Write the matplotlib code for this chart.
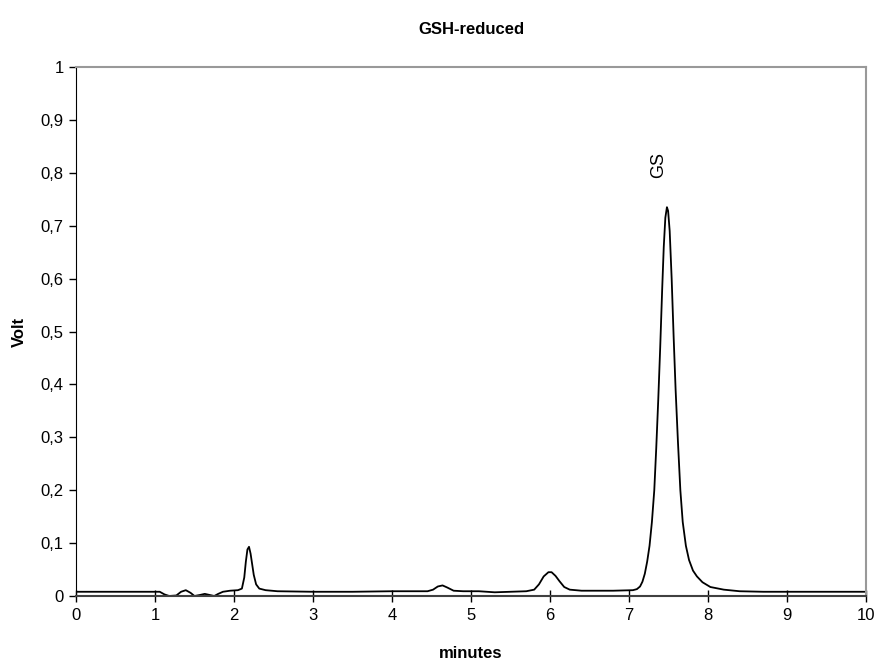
import matplotlib
matplotlib.use('Agg')
from matplotlib import pyplot as plt
from matplotlib.ticker import FuncFormatter

# chromatogram (minutes, volt)
minutes = [0, 0.5, 1.0, 1.06, 1.12, 1.18, 1.27, 1.33, 1.39, 1.45, 1.50, 1.57, 1.63, 1.69,
           1.75, 1.80, 1.86, 1.95, 2.05, 2.10, 2.13, 2.15, 2.17, 2.19, 2.21, 2.23, 2.25,
           2.28, 2.32, 2.40, 2.55, 3.0, 3.5, 4.0, 4.45, 4.52, 4.58, 4.64, 4.70, 4.78,
           4.9, 5.1, 5.3, 5.5, 5.7, 5.80, 5.86, 5.92, 5.98, 6.02, 6.07, 6.12, 6.18, 6.25,
           6.4, 6.8, 7.05, 7.10, 7.14, 7.17, 7.20, 7.23, 7.26, 7.29, 7.32, 7.345, 7.37,
           7.395, 7.42, 7.44, 7.46, 7.48, 7.495, 7.515, 7.54, 7.565, 7.59, 7.62, 7.65,
           7.68, 7.72, 7.76, 7.81, 7.86, 7.93, 8.03, 8.20, 8.40, 8.7, 9.0, 9.5, 10.0]
volt = [0.008, 0.008, 0.008, 0.008, 0.003, 0.0, 0.001, 0.008, 0.011, 0.006, 0.0, 0.002,
        0.004, 0.002, 0.0, 0.004, 0.008, 0.010, 0.011, 0.014, 0.035, 0.065, 0.088, 0.093,
        0.080, 0.060, 0.040, 0.022, 0.014, 0.011, 0.009, 0.008, 0.008, 0.009, 0.009,
        0.012, 0.018, 0.020, 0.016, 0.010, 0.009, 0.009, 0.007, 0.008, 0.009, 0.012,
        0.022, 0.037, 0.045, 0.045, 0.038, 0.028, 0.017, 0.012, 0.010, 0.010, 0.011,
        0.013, 0.018, 0.027, 0.042, 0.065, 0.095, 0.14, 0.20, 0.28, 0.37,
        0.47, 0.58, 0.66, 0.715, 0.735, 0.728, 0.69, 0.60, 0.49, 0.39, 0.29, 0.20,
        0.14, 0.095, 0.068, 0.048, 0.037, 0.026, 0.017, 0.012, 0.009, 0.008, 0.008, 0.008, 0.008]

x_ticks = list(range(0, 11))
y_ticks = [0, 0.1, 0.2, 0.3, 0.4, 0.5, 0.6, 0.7, 0.8, 0.9, 1.0]

plt.rcParams['font.family'] = ['Liberation Sans', 'DejaVu Sans']

fig = plt.figure(figsize=(8.77, 6.63), dpi=100)
ax = fig.add_axes([76 / 877, 67 / 663, 790 / 877, 529 / 663])

ax.plot(minutes, volt, color='black', linewidth=1.3)
ax.text(7.37, 0.815, 'GS', rotation=90, ha='center', va='center', fontsize=13)

ax.set_xlim(0, 10)
ax.set_ylim(0, 1)
ax.set_xticks(x_ticks)
ax.set_yticks(y_ticks)

def comma(v, pos):
    s = '%g' % round(v, 2)
    return s.replace('.', ',')

ax.yaxis.set_major_formatter(FuncFormatter(comma))
ax.tick_params(axis='x', direction='inout', length=9, width=1, labelsize=12, pad=4)
ax.tick_params(axis='y', direction='out', length=5, width=1, labelsize=12, pad=4)

ax.spines['left'].set_color('black')
ax.spines['bottom'].set_color('#404040')
ax.spines['bottom'].set_linewidth(1.5)
for s in ['top', 'right']:
    ax.spines[s].set_color('#999999')
    ax.spines[s].set_linewidth(1.5)

ax.set_title('GSH-reduced', fontsize=12, fontweight='bold', pad=24)
ax.set_xlabel('minutes', fontsize=12, fontweight='bold', labelpad=17)
ax.set_ylabel('Volt', fontsize=12, fontweight='bold', labelpad=10)

fig.savefig('out.png', dpi=100)
